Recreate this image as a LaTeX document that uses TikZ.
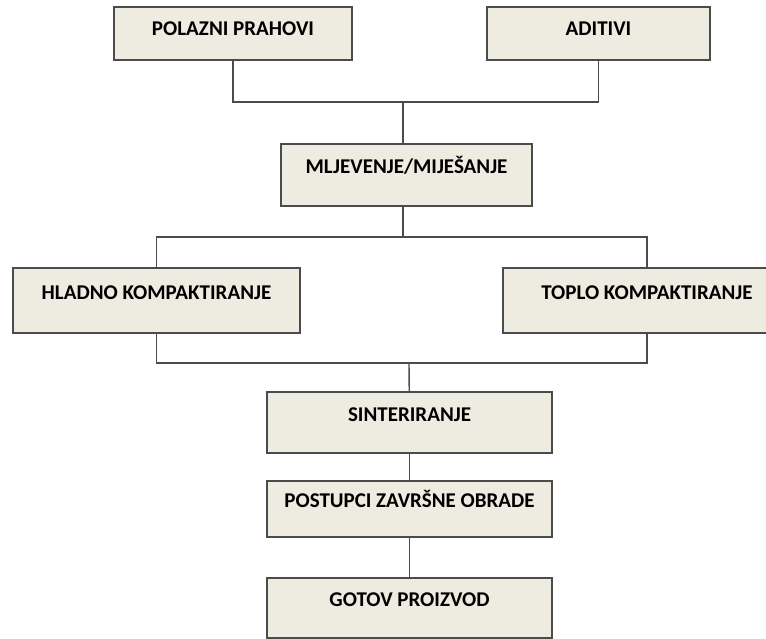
\documentclass[tikz,border=0pt]{standalone}
\usepackage{fontspec}
\setmainfont{Carlito}
\usepackage{tikz}

\definecolor{boxfill}{RGB}{238,235,225}
\definecolor{boxline}{RGB}{75,75,75}

\begin{document}
\begin{tikzpicture}[
  x = 1pt, y = -1pt,
  line width = 1.4pt,
  draw = boxline,
  step box/.style = {draw = boxline, fill = boxfill, line width = 1.6pt,
    inner sep = 0pt, text height = 13pt, text depth = 16pt,
    font = \fontsize{21}{25}\selectfont\bfseries},
  top box/.style = {step box, text depth = 8pt},
  ]

  \useasboundingbox (0, 0) rectangle (766, 639);

  \node at (233, 33.5)
  [top box, minimum width = 238pt, minimum height = 53pt, name = Polazni] {POLAZNI PRAHOVI};

  \node at (598.5, 33.5)
  [top box, minimum width = 223pt, minimum height = 53pt, name = Aditivi] {ADITIVI};

  \node at (406.5, 175)
  [step box, minimum width = 251pt, minimum height = 62pt, name = Mljevenje] {MLJEVENJE/MIJEŠANJE};

  \node at (156.5, 300.5)
  [step box, minimum width = 287pt, minimum height = 65pt, name = Hladno] {HLADNO KOMPAKTIRANJE};

  \node at (647, 300.5)
  [step box, minimum width = 288pt, minimum height = 65pt, name = Toplo] {TOPLO KOMPAKTIRANJE};

  \node at (409.5, 422.5)
  [step box, minimum width = 285pt, minimum height = 61pt, name = Sinteriranje] {SINTERIRANJE};

  \node at (409.5, 509)
  [step box, minimum width = 285pt, minimum height = 56pt, name = Postupci] {POSTUPCI ZAVRŠNE OBRADE};

  \node at (409.5, 608)
  [step box, minimum width = 285pt, minimum height = 60pt, name = Gotov] {GOTOV PROIZVOD};

  \coordinate (TopJoin) at (403, 102);
  \coordinate (MidJoin) at (403, 237);
  \coordinate (LowJoin) at (409, 363);

  \draw (Polazni) |- (TopJoin);

  \draw (Aditivi) |- (TopJoin);

  \draw (TopJoin) -- (TopJoin |- Mljevenje.north);

  \draw (MidJoin |- Mljevenje.south) -- (MidJoin);

  \draw (Hladno.north) |- (MidJoin);

  \draw (Toplo.north) |- (MidJoin);

  \draw (Hladno.south) |- (LowJoin);

  \draw (Toplo.south) |- (LowJoin);

  \draw (LowJoin) -- (Sinteriranje);

  \draw (Sinteriranje) -- (Postupci);

  \draw (Postupci) -- (Gotov);

\end{tikzpicture}
\end{document}
